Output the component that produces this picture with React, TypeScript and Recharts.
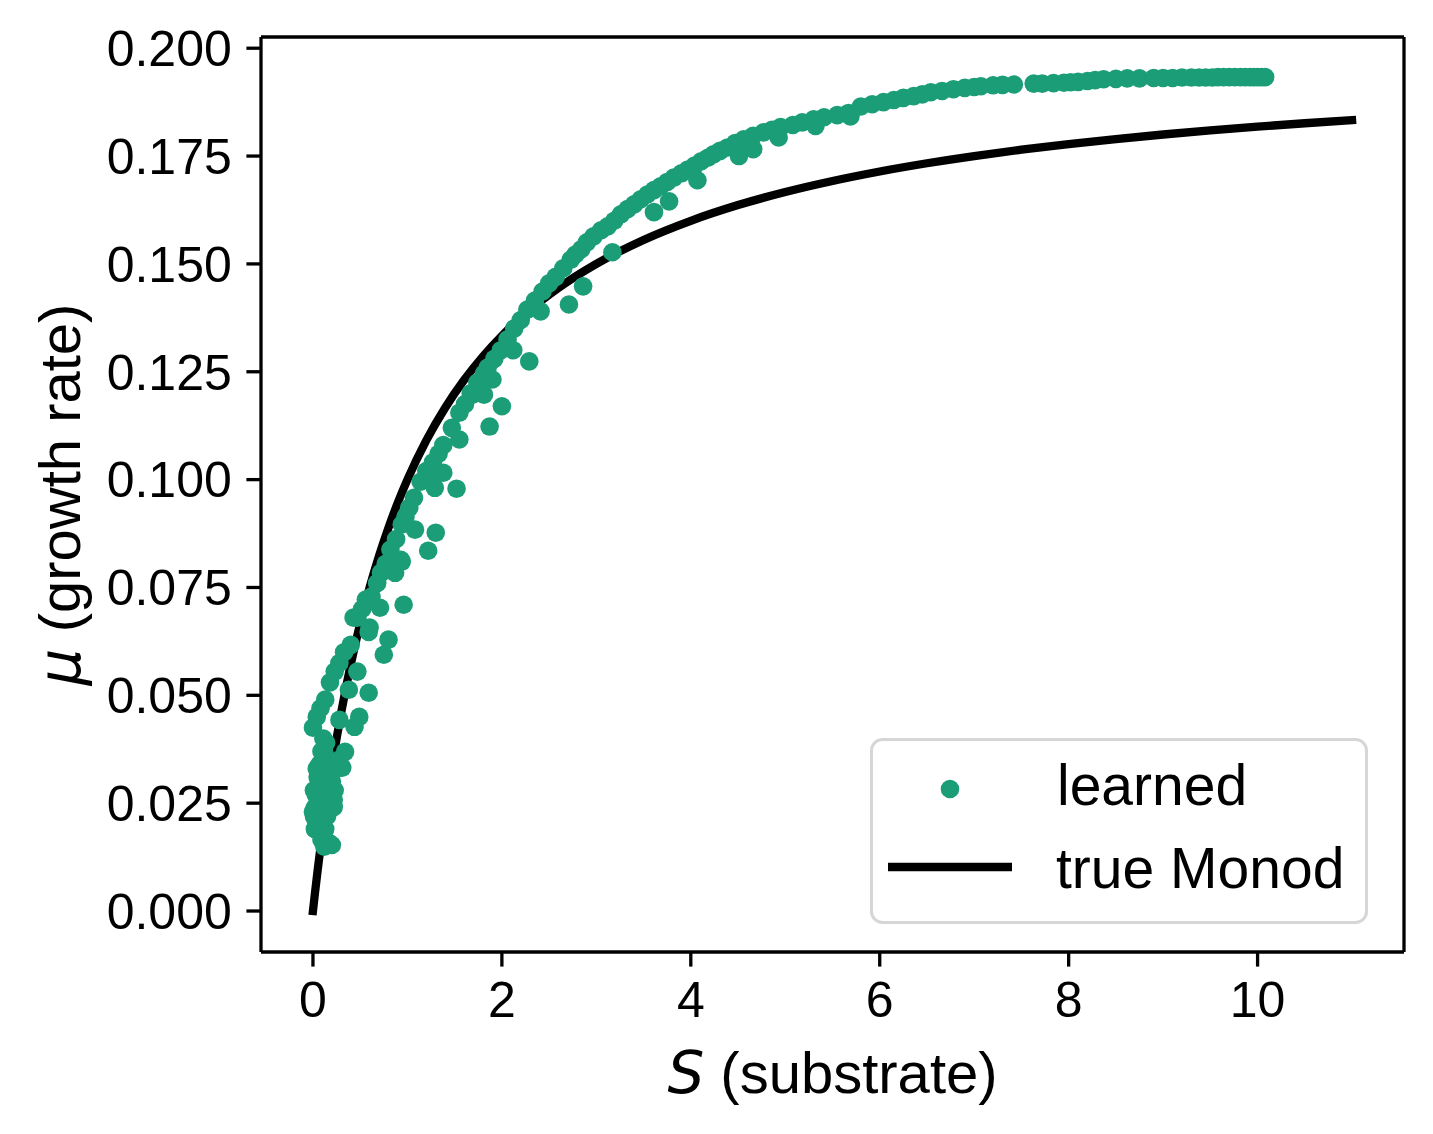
import React from 'react';
import { ComposedChart, Scatter, Line, XAxis, YAxis, Legend, ReferenceLine } from 'recharts';

const GREEN = '#1b9e77';
const SANS = '"Liberation Sans", Arial, Helvetica, sans-serif';
const MATH = '"DejaVu Sans", sans-serif';

// Learned growth rate: main (upper) branch
const upperS = [0.00, 0.04, 0.08, 0.13, 0.18, 0.23, 0.28, 0.33, 0.40, 0.43, 0.47, 0.52, 0.56, 0.62, 0.68, 0.72, 0.77, 0.82, 0.88, 0.94, 0.98, 1.02, 1.07, 1.14, 1.20, 1.27, 1.33, 1.38, 1.47, 1.55, 1.61, 1.67, 1.74, 1.81, 1.85, 1.92, 1.99, 2.06, 2.13, 2.20, 2.27, 2.35, 2.43, 2.50, 2.57, 2.65, 2.73, 2.78, 2.84, 2.90, 2.97, 3.05, 3.12, 3.19, 3.26, 3.33, 3.40, 3.47, 3.54, 3.61, 3.68, 3.75, 3.82, 3.90, 3.97, 4.04, 4.11, 4.18, 4.24, 4.31, 4.39, 4.47, 4.56, 4.66, 4.77, 4.86, 4.95, 5.08, 5.18, 5.30, 5.41, 5.55, 5.67, 5.80, 5.92, 6.04, 6.15, 6.25, 6.36, 6.45, 6.54, 6.66, 6.78, 6.90, 7.00, 7.07, 7.20, 7.30, 7.42, 7.63, 7.72, 7.84, 7.95, 8.02, 8.10, 8.20, 8.28, 8.37, 8.50, 8.62, 8.75, 8.90, 9.00, 9.10, 9.20, 9.30, 9.38, 9.45, 9.52, 9.58, 9.64, 9.70, 9.76, 9.82, 9.87, 9.92, 9.96, 10.00, 10.04, 10.08];
const upperMu = [0.0425, 0.0450, 0.0470, 0.0490, 0.0530, 0.0555, 0.0575, 0.0600, 0.0617, 0.0680, 0.0680, 0.0700, 0.0722, 0.0729, 0.0760, 0.0784, 0.0805, 0.0838, 0.0862, 0.0896, 0.0914, 0.0935, 0.0958, 0.0995, 0.1020, 0.1040, 0.1060, 0.1080, 0.1120, 0.1155, 0.1175, 0.1200, 0.1225, 0.1245, 0.1260, 0.1280, 0.1300, 0.1325, 0.1350, 0.1370, 0.1394, 0.1415, 0.1436, 0.1455, 0.1470, 0.1490, 0.1510, 0.1522, 0.1534, 0.1550, 0.1564, 0.1578, 0.1587, 0.1600, 0.1615, 0.1627, 0.1638, 0.1650, 0.1661, 0.1671, 0.1680, 0.1690, 0.1700, 0.1710, 0.1719, 0.1728, 0.1738, 0.1746, 0.1754, 0.1762, 0.1770, 0.1780, 0.1789, 0.1797, 0.1805, 0.1811, 0.1817, 0.1822, 0.1828, 0.1835, 0.1840, 0.1845, 0.1850, 0.1865, 0.1870, 0.1875, 0.1880, 0.1885, 0.1889, 0.1893, 0.1898, 0.1901, 0.1905, 0.1908, 0.1910, 0.1912, 0.1914, 0.1915, 0.1916, 0.1918, 0.1918, 0.1919, 0.1920, 0.1921, 0.1922, 0.1924, 0.1926, 0.1928, 0.1929, 0.1930, 0.1930, 0.1931, 0.1931, 0.1931, 0.1932, 0.1932, 0.1932, 0.1932, 0.1932, 0.1933, 0.1933, 0.1933, 0.1933, 0.1933, 0.1933, 0.1933, 0.1933, 0.1933, 0.1933, 0.1933];

// Learned growth rate: scattered points below the main branch
const lowerS = [0.96, 0.71, 0.59, 0.80, 0.75, 0.47, 0.38, 0.59, 0.49, 0.44, 0.28, 0.34, 0.31, 0.23, 0.22, 0.20, 0.87, 0.94, 0.60, 0.93, 1.08, 1.30, 1.22, 1.29, 1.52, 1.38, 1.26, 1.55, 1.87, 2.00, 1.90, 1.81, 1.69, 2.12, 2.29, 2.41, 2.71, 2.86, 3.17, 3.61, 3.77, 4.07, 4.51, 4.66, 4.93, 5.32, 5.69];
const lowerMu = [0.0710, 0.0703, 0.0647, 0.0629, 0.0594, 0.0555, 0.0513, 0.0506, 0.0450, 0.0427, 0.0443, 0.0369, 0.0332, 0.0280, 0.0258, 0.0153, 0.0784, 0.0810, 0.0657, 0.0814, 0.0884, 0.0877, 0.0835, 0.0981, 0.0979, 0.1016, 0.1010, 0.1093, 0.1123, 0.1170, 0.1232, 0.1197, 0.1197, 0.1300, 0.1274, 0.1390, 0.1406, 0.1448, 0.1527, 0.1620, 0.1645, 0.1694, 0.1750, 0.1766, 0.1793, 0.1820, 0.1842];

// Learned growth rate: dense cluster near S = 0
const nearZeroS = [0.02, 0.03, 0.04, 0.05, 0.06, 0.07, 0.08, 0.10, 0.12, 0.14, 0.02, 0.03, 0.05, 0.07, 0.09, 0.11, 0.06, 0.08, 0.10, 0.12, 0.15, 0.18, 0.09, 0.12, 0.17, 0.15, 0.18, 0.20, 0.25, 0.22, 0.27, 0.01, 0.13, 0.00, 0.01, 0.04];
const nearZeroMu = [0.0190, 0.0210, 0.0235, 0.0260, 0.0280, 0.0300, 0.0320, 0.0340, 0.0367, 0.0390, 0.0240, 0.0270, 0.0310, 0.0340, 0.0370, 0.0400, 0.0200, 0.0240, 0.0280, 0.0310, 0.0330, 0.0340, 0.0165, 0.0149, 0.0158, 0.0220, 0.0260, 0.0300, 0.0330, 0.0241, 0.0350, 0.0220, 0.0190, 0.0230, 0.0280, 0.0330];

// True Monod curve
const monodS = [0, 0.02, 0.05, 0.1, 0.15, 0.2, 0.3, 0.4, 0.5, 0.6, 0.7, 0.8, 0.9, 1.0, 1.2, 1.4, 1.6, 1.8, 2.0, 2.3, 2.6, 3.0, 3.5, 4.0, 4.5, 5, 5.5, 6, 6.5, 7, 7.5, 8, 8.5, 9, 9.5, 10, 10.5, 11];
const monodMu = [0, 0.00392, 0.00952, 0.01818, 0.02609, 0.03333, 0.04615, 0.05714, 0.06667, 0.075, 0.08235, 0.08889, 0.09474, 0.1, 0.10909, 0.11667, 0.12308, 0.12857, 0.13333, 0.13939, 0.14444, 0.15, 0.15556, 0.16, 0.16364, 0.16667, 0.16923, 0.17143, 0.17333, 0.175, 0.17647, 0.17778, 0.17895, 0.18, 0.18095, 0.18182, 0.18261, 0.18333];

const xTicks = [0, 2, 4, 6, 8, 10];
const yTicks = [0, 0.025, 0.05, 0.075, 0.1, 0.125, 0.15, 0.175, 0.2];
const xDomain = [-0.55, 11.55];
const yDomain = [-0.0095, 0.2026];

const zip = (s: number[], m: number[]) => s.map((v, i) => ({ S: v, mu: m[i] }));
const learned = [...zip(upperS, upperMu), ...zip(lowerS, lowerMu), ...zip(nearZeroS, nearZeroMu)];
const monod = zip(monodS, monodMu);

const spine = { stroke: '#000', strokeWidth: 3.3 };
const tickStyle = { fontSize: 50, fontFamily: SANS, fill: '#000' };

const XLabel = (props: any) => {
  const vb = props.viewBox || { x: 261, y: 952, width: 1143, height: 182 };
  return (
    <text x={vb.x + vb.width / 2} y={vb.y + 141} textAnchor="middle" fontSize={58} fontFamily={SANS} fill="#000">
      <tspan fontFamily={MATH} fontStyle="italic">S</tspan>
      <tspan> (substrate)</tspan>
    </text>
  );
};

const YLabel = (props: any) => {
  const vb = props.viewBox || { x: 0, y: 37, width: 261, height: 915 };
  const cx = vb.x + 80;
  const cy = vb.y + vb.height / 2;
  return (
    <text x={cx} y={cy} transform={`rotate(-90, ${cx}, ${cy})`} textAnchor="middle" fontSize={58} fontFamily={SANS} fill="#000">
      <tspan fontFamily={MATH} fontStyle="italic">μ</tspan>
      <tspan> (growth rate)</tspan>
    </text>
  );
};

const LegendBox = () => (
  <svg width={498} height={186} style={{ display: 'block' }}>
    <rect x={1.5} y={1.5} width={495} height={183} rx={11} ry={11} fill="#fff" fillOpacity={0.8} stroke="#d6d6d6" strokeWidth={3} />
    <circle cx={80} cy={51} r={9.3} fill={GREEN} />
    <line x1={18} y1={129} x2={142} y2={129} stroke="#000" strokeWidth={8.3} />
    <text x={187} y={67} fontSize={57} fontFamily={SANS} fill="#000">learned</text>
    <text x={186} y={150} fontSize={57} fontFamily={SANS} fill="#000">true Monod</text>
  </svg>
);

export default function App() {
  return (
    <div style={{ position: 'absolute', left: 0, top: 0, width: 1433, height: 1134, background: '#fff' }}>
      <ComposedChart width={1433} height={1134} margin={{ top: 37, right: 29, bottom: 0, left: 0 }}>
        <XAxis
          xAxisId="b"
          type="number"
          dataKey="S"
          domain={xDomain}
          ticks={xTicks}
          allowDataOverflow
          height={182}
          tickSize={14.6}
          tickMargin={14.6}
          tick={tickStyle}
          axisLine={spine}
          tickLine={spine}
          label={{ content: XLabel }}
        />
        <YAxis
          yAxisId="l"
          type="number"
          dataKey="mu"
          domain={yDomain}
          ticks={yTicks}
          allowDataOverflow
          width={261}
          tickSize={14.6}
          tickMargin={14.6}
          tick={tickStyle}
          tickFormatter={(v: number) => v.toFixed(3)}
          axisLine={spine}
          tickLine={spine}
          label={{ content: YLabel }}
        />
        <ReferenceLine xAxisId="b" yAxisId="l" y={yDomain[1]} stroke="#000" strokeWidth={3.3} ifOverflow="visible" />
        <ReferenceLine xAxisId="b" yAxisId="l" x={xDomain[1]} stroke="#000" strokeWidth={3.3} ifOverflow="visible" />
        <Scatter
          xAxisId="b"
          yAxisId="l"
          name="learned"
          data={learned}
          dataKey="mu"
          fill={GREEN}
          isAnimationActive={false}
          shape={(p: any) => <circle cx={p.cx} cy={p.cy} r={9.3} fill={GREEN} />}
        />
        <Line
          xAxisId="b"
          yAxisId="l"
          name="true Monod"
          data={monod}
          dataKey="mu"
          type="monotone"
          stroke="#000"
          strokeWidth={8.3}
          strokeLinecap="square"
          dot={false}
          activeDot={false}
          isAnimationActive={false}
        />
        <Legend
          layout="vertical"
          align="center"
          verticalAlign="middle"
          wrapperStyle={{ left: 870, top: 738, width: 498, height: 186 }}
          content={() => <LegendBox />}
        />
      </ComposedChart>
    </div>
  );
}
